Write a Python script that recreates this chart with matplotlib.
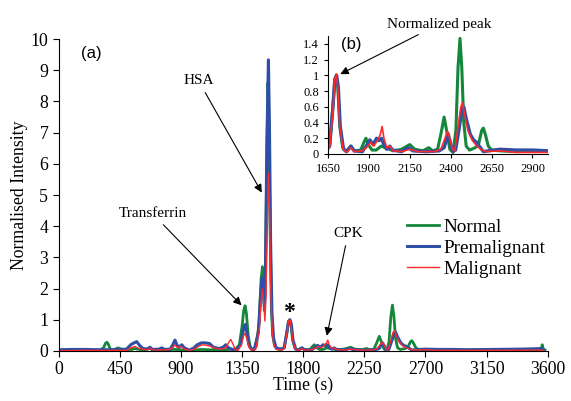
import numpy as np
import matplotlib
matplotlib.use("Agg")
import matplotlib.pyplot as plt
from matplotlib.ticker import FuncFormatter

# chromatogram traces: (time s, normalised intensity)
normal_t = [0, 100, 200, 300, 330, 345, 355, 365, 380, 400, 420, 437, 455, 480, 540, 560,
            580, 620, 672, 690, 760, 850, 900, 960, 1000, 1050, 1100, 1200, 1250, 1300,
            1330, 1350, 1362, 1372, 1382, 1395, 1410, 1430, 1455, 1475, 1490, 1500, 1508,
            1515, 1522, 1532, 1540, 1548, 1556, 1565, 1575, 1590, 1620, 1660, 1680, 1692,
            1700, 1710, 1722, 1740, 1760, 1790, 1810, 1850, 1870, 1882, 1895, 1920, 1945,
            1975, 2000, 2050, 2100, 2150, 2180, 2230, 2266, 2290, 2320, 2340, 2360, 2375,
            2395, 2415, 2432, 2445, 2457, 2468, 2480, 2495, 2515, 2550, 2570, 2590, 2600,
            2612, 2630, 2650, 2700, 2800, 2900, 3000, 3200, 3400, 3500, 3550, 3560, 3568, 3580]
normal_v = [0.02, 0.03, 0.02, 0.02, 0.1, 0.25, 0.28, 0.22, 0.06, 0.03, 0.07, 0.1, 0.07, 0.04,
            0.05, 0.08, 0.06, 0.03, 0.08, 0.03, 0.04, 0.05, 0.04, 0.02, 0.03, 0.05, 0.04, 0.03,
            0.05, 0.05, 0.2, 0.8, 1.3, 1.45, 1.2, 0.5, 0.12, 0.03, 0.15, 0.9, 2.3, 2.7, 2.0,
            1.4, 2.5, 6.0, 8.6, 7.5, 4.0, 1.5, 0.5, 0.15, 0.05, 0.1, 0.6, 0.95, 1.0, 0.85, 0.35,
            0.08, 0.03, 0.1, 0.04, 0.05, 0.15, 0.2, 0.12, 0.05, 0.05, 0.1, 0.08, 0.04, 0.06,
            0.12, 0.06, 0.04, 0.08, 0.04, 0.06, 0.25, 0.47, 0.3, 0.06, 0.02, 0.3, 1.1, 1.47,
            1.1, 0.4, 0.1, 0.05, 0.08, 0.12, 0.3, 0.33, 0.25, 0.1, 0.05, 0.04, 0.03, 0.04,
            0.03, 0.03, 0.03, 0.03, 0.05, 0.2, 0.05, 0.03]

premal_t = [0, 100, 200, 300, 400, 500, 530, 550, 574, 595, 620, 650, 672, 690, 740, 758,
            780, 820, 840, 856, 870, 885, 906, 925, 960, 990, 1020, 1050, 1080, 1110, 1140,
            1180, 1210, 1230, 1250, 1280, 1310, 1340, 1360, 1372, 1385, 1400, 1420, 1440,
            1470, 1488, 1498, 1508, 1515, 1522, 1532, 1544, 1552, 1560, 1570, 1582, 1600,
            1640, 1660, 1680, 1692, 1703, 1713, 1725, 1745, 1765, 1790, 1810, 1860, 1890,
            1906, 1925, 1947, 1962, 1977, 1995, 2010, 2028, 2045, 2100, 2140, 2170, 2250,
            2330, 2360, 2384, 2398, 2412, 2430, 2450, 2470, 2480, 2495, 2520, 2540, 2557,
            2575, 2600, 2630, 2700, 2800, 2900, 3000, 3200, 3400, 3500, 3550, 3570]
premal_v = [0.04, 0.05, 0.05, 0.04, 0.04, 0.06, 0.2, 0.25, 0.3, 0.18, 0.08, 0.06, 0.12,
            0.05, 0.06, 0.1, 0.05, 0.06, 0.2, 0.35, 0.2, 0.12, 0.2, 0.1, 0.03, 0.08, 0.2,
            0.26, 0.26, 0.24, 0.12, 0.08, 0.12, 0.2, 0.1, 0.05, 0.03, 0.2, 0.7, 0.85, 0.6,
            0.2, 0.05, 0.05, 0.6, 1.9, 2.35, 1.8, 1.3, 2.5, 6.5, 9.33, 7.0, 3.5, 1.2, 0.4,
            0.1, 0.05, 0.1, 0.6, 0.95, 1.0, 0.85, 0.35, 0.06, 0.03, 0.1, 0.04, 0.03, 0.12,
            0.18, 0.12, 0.2, 0.17, 0.2, 0.1, 0.06, 0.1, 0.05, 0.03, 0.08, 0.04, 0.03, 0.04,
            0.08, 0.26, 0.15, 0.03, 0.05, 0.3, 0.58, 0.6, 0.45, 0.25, 0.18, 0.15, 0.1, 0.03,
            0.04, 0.06, 0.05, 0.05, 0.04, 0.05, 0.06, 0.07, 0.08, 0.04]

malig_t = [0, 200, 400, 500, 530, 560, 590, 650, 672, 700, 800, 840, 856, 875, 900, 925,
           960, 1000, 1030, 1060, 1090, 1120, 1150, 1200, 1230, 1255, 1267, 1280, 1300, 1320,
           1345, 1360, 1372, 1385, 1400, 1420, 1450, 1475, 1490, 1500, 1510, 1518, 1526,
           1536, 1544, 1552, 1560, 1570, 1582, 1600, 1640, 1660, 1680, 1692, 1700, 1710,
           1722, 1742, 1765, 1790, 1810, 1860, 1895, 1910, 1930, 1955, 1970, 1981, 1992,
           2010, 2028, 2050, 2100, 2150, 2200, 2300, 2340, 2365, 2380, 2395, 2410, 2425,
           2445, 2462, 2472, 2485, 2505, 2530, 2560, 2590, 2620, 2700, 2800, 2900, 3000,
           3300, 3500, 3570]
malig_v = [0.01, 0.02, 0.02, 0.02, 0.1, 0.15, 0.08, 0.04, 0.08, 0.03, 0.04, 0.1, 0.2, 0.1,
           0.15, 0.06, 0.02, 0.06, 0.15, 0.2, 0.18, 0.15, 0.08, 0.06, 0.1, 0.3, 0.37, 0.25,
           0.05, 0.02, 0.2, 0.48, 0.57, 0.4, 0.12, 0.03, 0.05, 0.6, 1.6, 1.98, 1.5, 0.96, 1.8,
           4.0, 5.7, 4.5, 2.2, 0.8, 0.25, 0.05, 0.03, 0.08, 0.55, 0.95, 1.02, 0.85, 0.35,
           0.06, 0.02, 0.08, 0.03, 0.04, 0.1, 0.15, 0.1, 0.18, 0.25, 0.35, 0.2, 0.08, 0.1,
           0.04, 0.03, 0.06, 0.03, 0.03, 0.06, 0.2, 0.29, 0.2, 0.06, 0.04, 0.35, 0.6, 0.65,
           0.5, 0.3, 0.18, 0.1, 0.05, 0.03, 0.04, 0.02, 0.02, 0.02, 0.02, 0.03, 0.02]

series = [("Normal", normal_t, normal_v, "#14873a", 2.0),
          ("Premalignant", premal_t, premal_v, "#2f4fa6", 2.2),
          ("Malignant", malig_t, malig_v, "#ff2a2a", 1.0)]

xticks_main = np.arange(0, 3601, 450)
xticks_inset = [1650, 1900, 2150, 2400, 2650, 2900]

plt.rcParams['font.family'] = ['Liberation Serif', 'DejaVu Serif']

fig = plt.figure(figsize=(5.71, 4.01), dpi=100)
ax = fig.add_axes([0.1028, 0.1247, 0.8564, 0.778])

for name, t, v, c, lw in series:
    ax.plot(t, v, color=c, lw=lw, label=name)

ax.set_xlim(0, 3600)
ax.set_ylim(0, 10)
ax.set_xticks(xticks_main)
ax.set_yticks(range(0, 11))
ax.tick_params(labelsize=12.8, length=4, direction='out')
for s in ['top', 'right']:
    ax.spines[s].set_visible(False)
ax.set_xlabel("Time (s)", fontsize=12.8, labelpad=-1)
ax.set_ylabel("Normalised Intensity", fontsize=12.8, labelpad=2)

ax.text(0.045, 0.955, "(a)", transform=ax.transAxes, fontsize=12,
        family=['Liberation Sans'], va='center')
ax.text(1698, 1.22, "*", fontsize=17, fontweight='bold', ha='center', va='center')

arrow = dict(arrowstyle='-|>', color='black', lw=0.8, mutation_scale=12)
ax.annotate("HSA", xy=(1505, 5.0), xytext=(1030, 8.45), fontsize=11,
            ha='center', va='bottom', arrowprops=arrow)
ax.annotate("Transferrin", xy=(1360, 1.4), xytext=(690, 4.2), fontsize=11,
            ha='center', va='bottom', arrowprops=arrow)
ax.annotate("CPK", xy=(1970, 0.4), xytext=(2130, 3.55), fontsize=11,
            ha='center', va='bottom', arrowprops=arrow)

ax.legend(loc='upper left', bbox_to_anchor=(0.712, 0.426), frameon=False,
          fontsize=13.8, handlelength=1.7, handletextpad=0.2, labelspacing=0.2,
          borderaxespad=0, borderpad=0)

ins = fig.add_axes([0.5744, 0.616, 0.3853, 0.294])
for name, t, v, c, lw in series:
    ins.plot(t, v, color=c, lw=lw + 0.2)
ins.set_xlim(1650, 2995)
ins.set_ylim(0, 1.5)
ins.set_xticks(xticks_inset)
ins.set_yticks(np.arange(0, 1.41, 0.2))
ins.yaxis.set_major_formatter(FuncFormatter(lambda y, p: "%g" % round(y, 1)))
ins.tick_params(labelsize=9, length=3, direction='out')
for s in ['top', 'right']:
    ins.spines[s].set_visible(False)
ins.text(0.06, 0.93, "(b)", transform=ins.transAxes, fontsize=12,
         family=['Liberation Sans'], va='center')
ins.annotate("Normalized peak", xy=(1710, 1.0), xytext=(2330, 1.57), fontsize=11,
             ha='center', va='bottom', arrowprops=arrow, annotation_clip=False)

fig.savefig("out.png", dpi=100)
